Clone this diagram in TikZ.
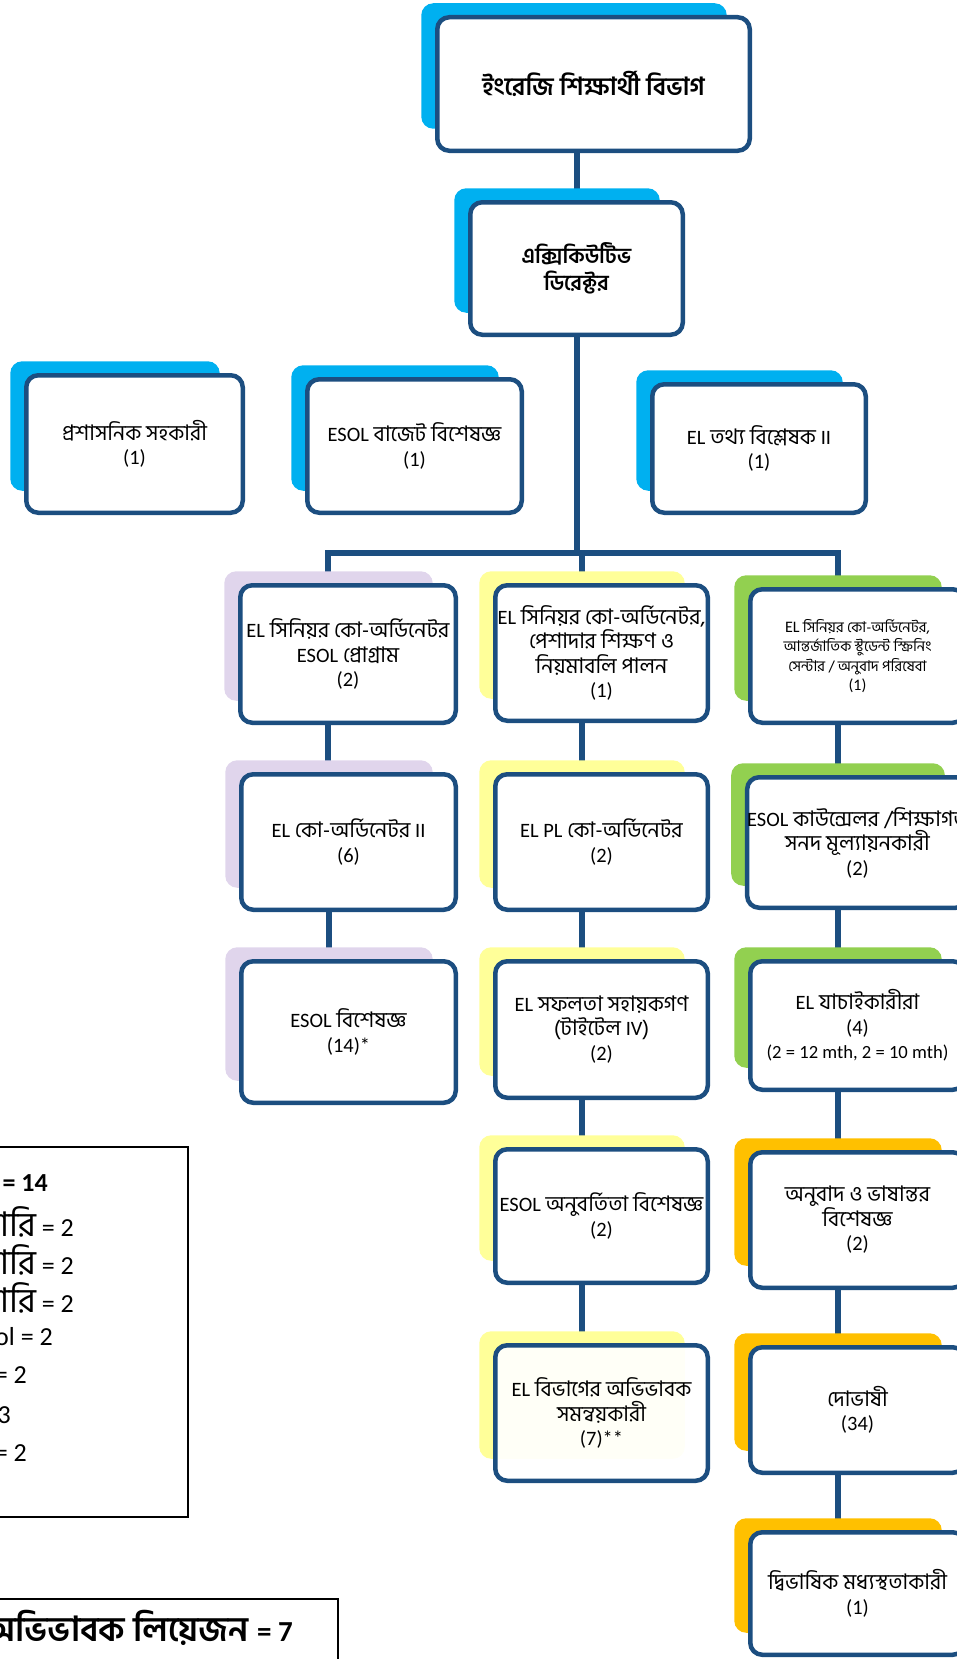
\documentclass[tikz,border=0pt]{standalone}
\usepackage{fontspec}
\setmainfont{Hind Siliguri}[Script=Bengali]
\newfontfamily\latf{Carlito}[Scale=0.95]
\newfontfamily\latL{Carlito}
\newcommand\eng[1]{{\latf #1}}
\usetikzlibrary{calc}
\definecolor{boxblue}{HTML}{1C4E80}
\definecolor{shblue}{HTML}{00B0F0}
\definecolor{shlav}{HTML}{E0D5EC}
\definecolor{shyel}{HTML}{FFFF99}
\definecolor{shgrn}{HTML}{92D050}
\definecolor{shgold}{HTML}{FFC000}
\pgfdeclarelayer{lconn}
\pgfdeclarelayer{lshad}
\pgfsetlayers{lconn,lshad,main}
\tikzset{
  box/.style={draw=boxblue, line width=4.5pt, rounded corners=12pt, fill=white,
    align=center, inner sep=0pt, outer sep=0pt,
    font=\fontsize{21.5}{24.5}\selectfont},
  conn/.style={draw=boxblue, line width=6pt},
  legbox/.style={draw=black, line width=1.3pt},
  legtxt/.style={anchor=east, inner sep=0pt, font=\latL\fontsize{26}{30}\selectfont},
}
% name, shadow colour, x1, y1, x2, y2, extra options, text
\newcommand\orgbox[8]{%
  \node[box, #7, minimum width={(#5-#3-4.5)*1pt}, minimum height={(#6-#4-4.5)*1pt}]
    (#1) at ({(#3+#5)/2},{(#4+#6)/2}) {#8};
  \begin{pgfonlayer}{lshad}
    \fill[#2, rounded corners=12pt] ([xshift=-16pt,yshift=14pt]#1.north west)
      rectangle ([xshift=-23pt,yshift=22pt]#1.south east);
  \end{pgfonlayer}}
\newcommand\vlink[2]{%
  \begin{pgfonlayer}{lconn}
    \draw[conn] ([xshift=-20pt]#1.south) -- ([xshift=-20pt]#1.south |- #2.north);
  \end{pgfonlayer}}
\newcommand\bnL[1]{{\fontspec{Hind Siliguri}[Script=Bengali]\fontsize{34}{30}\selectfont #1}}
\newcommand\engS[1]{{\latL\fontsize{16}{19.5}\selectfont #1}}
\begin{document}
\begin{tikzpicture}[x=1pt,y=-1pt]
\useasboundingbox (0,0) rectangle (957,1659);
\clip (0,0) rectangle (957,1659);

% top
\orgbox{top}{shblue}{435}{15}{752}{153}{font=\fontsize{25}{28}\selectfont\bfseries}{ইংরেজি শিক্ষার্থী বিভাগ}
\orgbox{exec}{shblue}{468}{200}{685}{337}{font=\fontsize{21.5}{27}\selectfont\bfseries}{এক্সিকিউটিভ\\ডিরেক্টর}
% staff row
\orgbox{admin}{shblue}{24}{373}{245}{515}{}{প্রশাসনিক সহকারী\\\eng{(1)}}
\orgbox{budget}{shblue}{305}{377}{524}{515}{}{\eng{ESOL} বাজেট বিশেষজ্ঞ\\\eng{(1)}}
\orgbox{data}{shblue}{650}{382}{868}{515}{}{\eng{EL} তথ্য বিশ্লেষক \eng{II}\\\eng{(1)}}
% column 1
\orgbox{c1r1}{shlav}{238}{583}{458}{725}{}{\eng{EL} সিনিয়র কো-অর্ডিনেটর\\\eng{ESOL} প্রোগ্রাম\\\eng{(2)}}
\orgbox{c1r2}{shlav}{239}{772}{458}{912}{}{\eng{EL} কো-অর্ডিনেটর \eng{II}\\\eng{(6)}}
\orgbox{c1r3}{shlav}{239}{959}{458}{1105}{}{\eng{ESOL} বিশেষজ্ঞ\\\eng{(14)*}}
% column 2
\orgbox{c2r1}{shyel}{493}{583}{710}{723}{}{\eng{EL} সিনিয়র কো-অর্ডিনেটর,\\পেশাদার শিক্ষণ ও\\নিয়মাবলি পালন\\\eng{(1)}}
\orgbox{c2r2}{shyel}{493}{772}{710}{912}{}{\eng{EL PL} কো-অর্ডিনেটর\\\eng{(2)}}
\orgbox{c2r3}{shyel}{493}{959}{710}{1100}{}{\eng{EL} সফলতা সহায়কগণ\\(টাইটেল \eng{IV})\\\eng{(2)}}
\orgbox{c2r4}{shyel}{493}{1147}{710}{1285}{}{\eng{ESOL} অনুবর্তিতা বিশেষজ্ঞ\\\eng{(2)}}
\orgbox{c2r5}{shyel}{493}{1343}{710}{1483}{fill opacity=0.92, text opacity=1}{\eng{EL} বিভাগের অভিভাবক\\সমন্বয়কারী\\\eng{(7)**}}
% column 3
\orgbox{c3r1}{shgrn}{748}{587}{967}{725}{font=\fontsize{14.8}{19.5}\selectfont}{\engS{EL} সিনিয়র কো-অর্ডিনেটর,\\আন্তর্জাতিক স্টুডেন্ট স্ক্রিনিং\\সেন্টার / অনুবাদ পরিষেবা\\\engS{(1)}}
\orgbox{c3r2}{shgrn}{748}{775}{967}{910}{}{\eng{ESOL} কাউন্সেলর /শিক্ষাগত\\সনদ মূল্যায়নকারী\\\eng{(2)}}
\orgbox{c3r3}{shgrn}{748}{959}{967}{1092}{}{\eng{EL} যাচাইকারীরা\\\eng{(4)}\\{\latL\fontsize{18.6}{24.5}\selectfont (2 = 12 mth, 2 = 10 mth)}}
\orgbox{c3r4}{shgold}{748}{1150}{967}{1290}{}{অনুবাদ ও ভাষান্তর\\বিশেষজ্ঞ\\\eng{(2)}}
\orgbox{c3r5}{shgold}{748}{1345}{967}{1475}{}{দোভাষী\\\eng{(34)}}
\orgbox{c3r6}{shgold}{748}{1530}{967}{1657}{}{দ্বিভাষিক মধ্যস্থতাকারী\\\eng{(1)}}

% connectors
\coordinate (bus) at (0,553);
\begin{pgfonlayer}{lconn}
  \draw[conn] (top.south -| exec.south) -- (exec.north);
  \draw[conn] (exec.south) -- (exec.south |- bus);
  \draw[conn] ([xshift=-20pt]c1r1.north) -- ([xshift=-20pt]c1r1.north |- bus)
     -- ([xshift=-20pt]c3r1.north |- bus) -- ([xshift=-20pt]c3r1.north);
  \draw[conn] ([xshift=-20pt]c2r1.north) -- ([xshift=-20pt]c2r1.north |- bus);
\end{pgfonlayer}
\vlink{c1r1}{c1r2}
\vlink{c1r2}{c1r3}
\vlink{c2r1}{c2r2}
\vlink{c2r2}{c2r3}
\vlink{c2r3}{c2r4}
\vlink{c2r4}{c2r5}
\vlink{c3r1}{c3r2}
\vlink{c3r2}{c3r3}
\vlink{c3r3}{c3r4}
\vlink{c3r4}{c3r5}
\vlink{c3r5}{c3r6}

% legend 1
\draw[legbox] (-10,1147) rectangle (188,1517);
\node[legtxt] (l1) at (48,1183) {\bfseries = 14};
\node[legtxt] (l2) at (74,1222) {\bnL{কারি} = 2};
\node[legtxt] (l3) at (74,1260) {\bnL{কারি} = 2};
\node[legtxt] (l4) at (74,1298) {\bnL{কারি} = 2};
\node[legtxt] (l5) at (53,1337) {ol = 2};
\node[legtxt] (l6) at (27,1375) {= 2};
\node[legtxt] (l7) at (11,1415) {= 3};
\node[legtxt] (l8) at (27,1453) {= 2};
% legend 2
\draw[legbox] (-10,1599) rectangle (338,1680);
\node[legtxt, font=\fontsize{34.5}{38}\selectfont\bfseries] (l9) at (293,1628) {অভিভাবক লিয়েজন {\latL\fontsize{29}{30}\selectfont = 7}};
\end{tikzpicture}
\end{document}
